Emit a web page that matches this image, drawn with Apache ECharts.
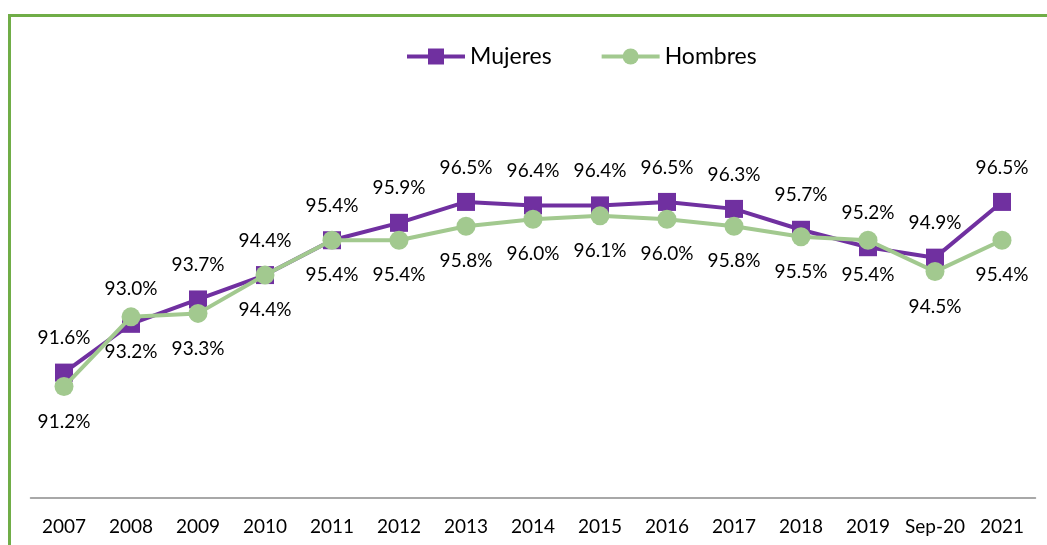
<!DOCTYPE html>
<html>
<head>
<meta charset="utf-8">
<script src="https://cdn.jsdelivr.net/npm/echarts@6/dist/echarts.min.js"></script>
<style>
  html, body { margin: 0; padding: 0; background: #fff; }
  #main { width: 1047px; height: 545px; }
</style>
</head>
<body>
<div id="main"></div>
<script>
// datos
var years = ['2007', '2008', '2009', '2010', '2011', '2012', '2013', '2014', '2015', '2016', '2017', '2018', '2019', 'Sep-20', '2021'];
var mujeres = [91.6, 93.0, 93.7, 94.4, 95.4, 95.9, 96.5, 96.4, 96.4, 96.5, 96.3, 95.7, 95.2, 94.9, 96.5];
var hombres = [91.2, 93.2, 93.3, 94.4, 95.4, 95.4, 95.8, 96.0, 96.1, 96.0, 95.8, 95.5, 95.4, 94.5, 95.4];

var myChart = echarts.init(document.getElementById('main'));
var fontFam = 'Lato, "Open Sans", sans-serif';
var option = {
    backgroundColor: '#fff',
    textStyle: { fontFamily: fontFam },
    graphic: [
        {
            type: 'polyline',
            shape: { points: [[9.5, 545], [9.5, 15.5], [1047, 15.5]] },
            style: { stroke: '#70AD47', lineWidth: 3, fill: null }
        }
    ],
    legend: {
        left: 400,
        top: 40,
        itemWidth: 58,
        itemHeight: 20,
        itemGap: 48,
        textStyle: { fontSize: 23, color: '#000', fontFamily: fontFam },
        data: [
            { name: 'Mujeres', itemStyle: { color: '#7030A0' }, lineStyle: { width: 4, color: '#7030A0' } },
            { name: 'Hombres', itemStyle: { color: '#A2C98F' }, lineStyle: { width: 4, color: '#A2C98F' } }
        ]
    },
    grid: { left: 30.5, right: 11.5, top: 80, bottom: 47 },
    xAxis: {
        type: 'category',
        data: years,
        axisLine: { lineStyle: { color: '#8c8c8c', width: 1.5 } },
        axisTick: { show: false },
        axisLabel: { interval: 0, color: '#000', fontSize: 19, margin: 19, fontFamily: fontFam }
    },
    yAxis: {
        type: 'value',
        min: 88,
        max: 100,
        show: false,
        splitLine: { show: false }
    },
    series: [
        {
            name: 'Mujeres',
            type: 'line',
            data: mujeres,
            symbol: 'rect',
            symbolSize: 18,
            color: '#7030A0',
            lineStyle: { width: 4, color: '#7030A0' },
            itemStyle: { color: '#7030A0' },
            label: {
                show: true,
                position: 'top',
                distance: 16,
                color: '#000',
                fontSize: 19,
                fontFamily: fontFam,
                formatter: function (p) { return p.value.toFixed(1) + '%'; }
            },
            z: 2
        },
        {
            name: 'Hombres',
            type: 'line',
            data: hombres,
            symbol: 'circle',
            symbolSize: 19,
            color: '#A2C98F',
            lineStyle: { width: 4, color: '#A2C98F' },
            itemStyle: { color: '#A2C98F' },
            label: {
                show: true,
                position: 'bottom',
                distance: 16,
                color: '#000',
                fontSize: 19,
                fontFamily: fontFam,
                formatter: function (p) { return p.value.toFixed(1) + '%'; }
            },
            z: 3
        }
    ],
    animation: false
};
myChart.setOption(option);
</script>
</body>
</html>
